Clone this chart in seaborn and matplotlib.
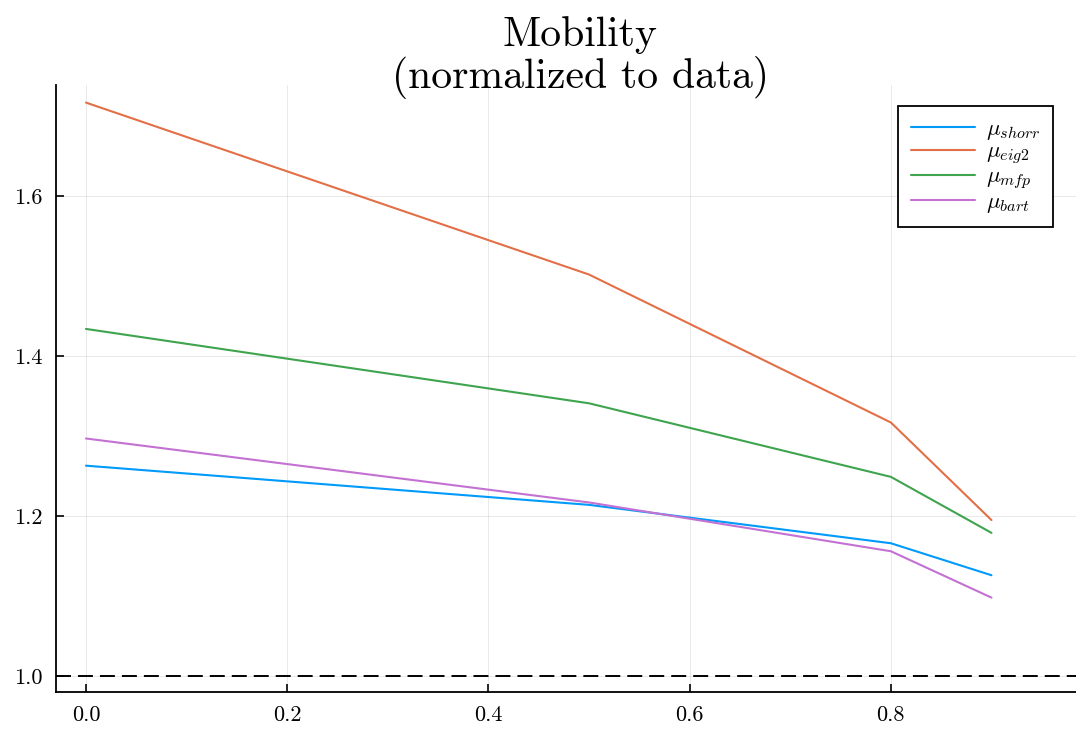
import matplotlib
matplotlib.use("Agg")
import matplotlib.pyplot as plt
import seaborn as sns
import pandas as pd

x_vals = [0.0, 0.5, 0.8, 0.9]
mu_shorr = [1.263, 1.214, 1.166, 1.126]
mu_eig2 = [1.717, 1.502, 1.317, 1.195]
mu_mfp = [1.434, 1.341, 1.249, 1.179]
mu_bart = [1.297, 1.217, 1.156, 1.098]
labels = [r"$\mu_{shorr}$", r"$\mu_{eig2}$", r"$\mu_{mfp}$", r"$\mu_{bart}$"]
colors = ["#009AFA", "#E36F47", "#3EA44E", "#C371D2"]
x_ticks = [0.0, 0.2, 0.4, 0.6, 0.8]
y_ticks = [1.0, 1.2, 1.4, 1.6]

sns.set_style("white")
plt.rcParams["font.family"] = "serif"
plt.rcParams["font.serif"] = ["cmr10"]
plt.rcParams["mathtext.fontset"] = "cm"
plt.rcParams["axes.formatter.use_mathtext"] = True
plt.rcParams["text.color"] = "black"
plt.rcParams["axes.labelcolor"] = "black"
plt.rcParams["xtick.color"] = "black"
plt.rcParams["ytick.color"] = "black"

fig = plt.figure(figsize=(10.76, 7.3), dpi=100)
ax = fig.add_axes([56 / 1076, 38 / 730, 1 - 56 / 1076, (692 - 85) / 730])

series = [mu_shorr, mu_eig2, mu_mfp, mu_bart]
frames = []
for lab, vals in zip(labels, series):
    frames.append(pd.DataFrame({"x": x_vals, "y": vals, "series": lab}))
df = pd.concat(frames, ignore_index=True)

sns.lineplot(data=df, x="x", y="y", hue="series", palette=colors,
             hue_order=labels, ax=ax, linewidth=1.5, legend=True)
ax.axhline(1.0, color="black", linewidth=1.4, linestyle=(0, (7.7, 3.6)), zorder=1)

ax.set_xlim(-0.0298, 0.984)
ax.set_ylim(0.98, 1.739)
ax.set_xticks(x_ticks)
ax.set_yticks(y_ticks)
ax.set_xticklabels([f"{t:.1f}" for t in x_ticks], fontsize=16, color="black")
ax.set_yticklabels([f"{t:.1f}" for t in y_ticks], fontsize=16, color="black")
ax.set_xlabel("")
ax.set_ylabel("")
ax.grid(True, color="black", alpha=0.1, linewidth=0.6)
for s in ["top", "right"]:
    ax.spines[s].set_visible(False)
for s in ["left", "bottom"]:
    ax.spines[s].set_color("black")
    ax.spines[s].set_linewidth(1.3)
ax.tick_params(direction="in", length=6, width=1.2, colors="black", pad=10,
               left=True, bottom=True)

ax.set_title("Mobility\n(normalized to data)", fontsize=30, linespacing=1.05,
             pad=-2, color="black", x=0.5 + 14 / 1020)

leg = ax.legend(loc="upper right", bbox_to_anchor=(0.977, 0.965), borderaxespad=0,
                fontsize=16.5, frameon=True, fancybox=False, edgecolor="black",
                handlelength=2.8, labelspacing=0.0, borderpad=0.55, handletextpad=0.45)
leg.get_frame().set_linewidth(1.3)
leg.get_frame().set_alpha(1)

fig.savefig("out.png", dpi=100)
